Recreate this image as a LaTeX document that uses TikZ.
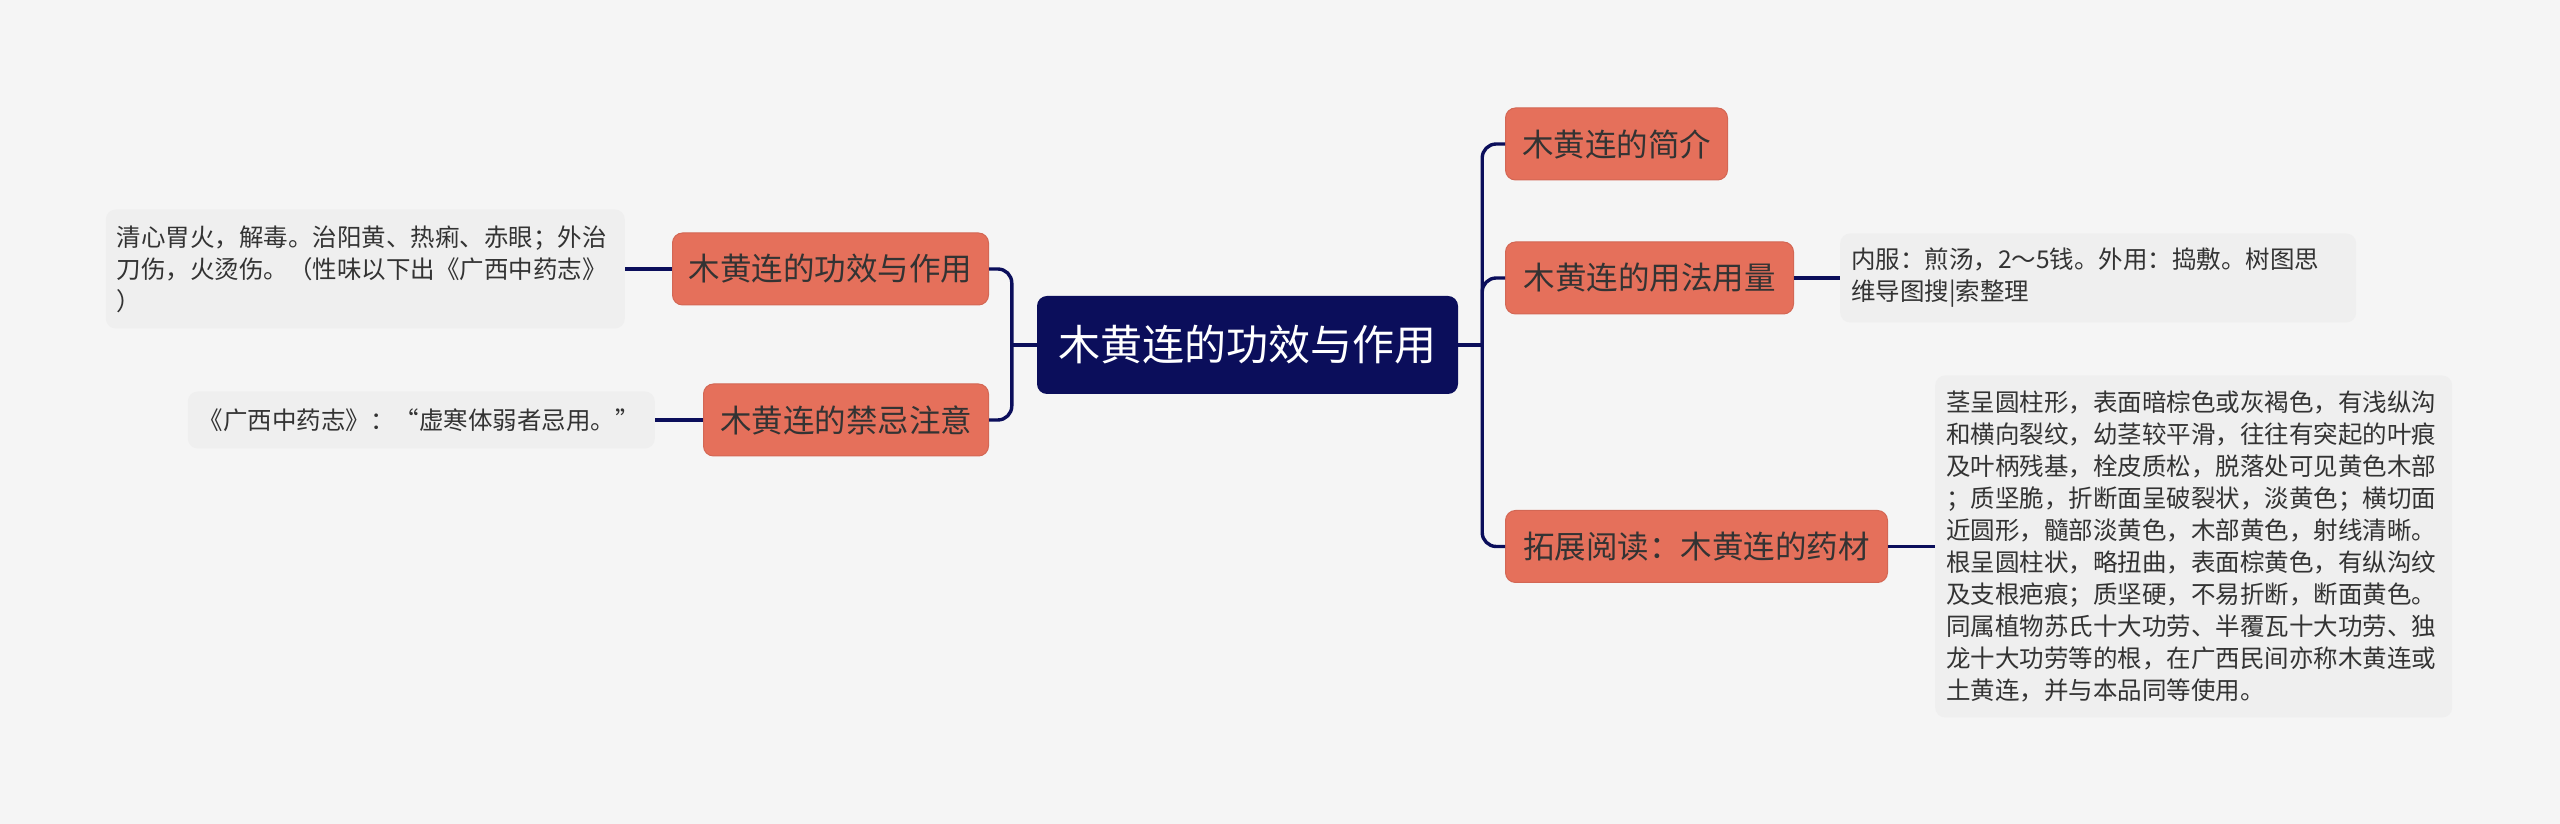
\documentclass[tikz,border=0pt]{standalone}
\usepackage{fontspec}
\setmainfont{Noto Sans CJK SC}
\usetikzlibrary{calc}
\definecolor{bg}{HTML}{F5F5F5}
\definecolor{navy}{HTML}{0B0E5B}
\definecolor{orangebox}{HTML}{E5705B}
\definecolor{leafbg}{HTML}{EFEFEF}
\definecolor{txt}{HTML}{333333}
\begin{document}
\begin{tikzpicture}[x=1pt,y=1pt,
 root/.style={fill=navy, rounded corners=10pt, text=white, font=\fontsize{42}{50}\selectfont, minimum width=421pt, minimum height=98pt, inner sep=0pt},
 topic/.style={fill=orangebox, draw=orangebox!92!black, line width=1pt, rounded corners=10pt, text=txt, font=\fontsize{31.5}{38}\selectfont, minimum height=72pt, inner sep=0pt},
 leaf/.style={fill=leafbg, rounded corners=10pt, text=txt, font=\fontsize{24.5}{32}\selectfont, align=left, inner xsep=11pt, inner ysep=11pt},
 link/.style={draw=navy, line width=3.4pt, rounded corners=14pt}
]
\fill[bg] (0,0) rectangle (2560,824);
\useasboundingbox (0,0) rectangle (2560,824);

\node[root] (c) at (1247.5,479) {木黄连的功效与作用};
\node[topic, minimum width=222pt, anchor=west] (r1) at (1505,680) {木黄连的简介};
\node[topic, minimum width=288pt, anchor=west] (r2) at (1505,546) {木黄连的用法用量};
\node[topic, minimum width=382pt, anchor=west] (r3) at (1505,277.5) {拓展阅读：木黄连的药材};
\node[topic, minimum width=316pt, anchor=east] (l1) at (989,555) {木黄连的功效与作用};
\node[topic, minimum width=285pt, anchor=east] (l2) at (989,404) {木黄连的禁忌注意};

\node[leaf, text width=494pt, minimum height=89pt, anchor=west] (r2a) at (1840,546)
 {内服：煎汤，2～5钱。外用：捣敷。树图思\\维导图搜|索整理};
\node[leaf, text width=495pt, minimum height=342pt, anchor=west] (r3a) at (1935,277.5)
 {茎呈圆柱形，表面暗棕色或灰褐色，有浅纵沟\\和横向裂纹，幼茎较平滑，往往有突起的叶痕\\及叶柄残基，栓皮质松，脱落处可见黄色木部\\；质坚脆，折断面呈破裂状，淡黄色；横切面\\近圆形，髓部淡黄色，木部黄色，射线清晰。\\根呈圆柱状，略扭曲，表面棕黄色，有纵沟纹\\及支根疤痕；质坚硬，不易折断，断面黄色。\\同属植物苏氏十大功劳、半覆瓦十大功劳、独\\龙十大功劳等的根，在广西民间亦称木黄连或\\土黄连，并与本品同等使用。};
\node[leaf, text width=497pt, minimum height=119pt, anchor=east] (l1a) at (625,555)
 {清心胃火，解毒。治阳黄、热痢、赤眼；外治\\刀伤，火烫伤。（性味以下出《广西中药志》\\）};
\node[leaf, text width=445pt, minimum height=57pt, anchor=east] (l2a) at (655,404)
 {《广西中药志》：“虚寒体弱者忌用。”};

\coordinate (rt) at ($(c.east)+(24,0)$);
\coordinate (lt) at ($(c.west)+(-25,0)$);
\draw[link] (c.east) -- (rt);
\foreach \n in {r1,r2,r3} \draw[link] (rt) |- (\n.west);
\draw[link] (c.west) -- (lt);
\foreach \n in {l1,l2} \draw[link] (lt) |- (\n.east);
\draw[link] (r2.east) -- (r2a.west);
\draw[link] (r3.east) -- (r3a.west);
\draw[link] (l1.west) -- (l1a.east);
\draw[link] (l2.west) -- (l2a.east);
\end{tikzpicture}
\end{document}
